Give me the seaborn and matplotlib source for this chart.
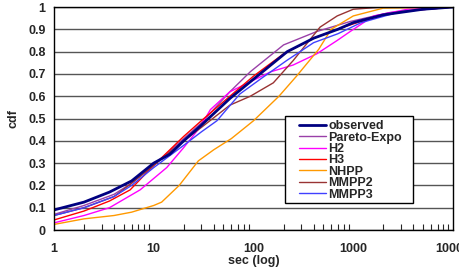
import numpy as np
import pandas as pd
import seaborn as sns
import matplotlib
matplotlib.use('Agg')
import matplotlib.pyplot as plt
from matplotlib.patches import Rectangle
from matplotlib.ticker import LogLocator, NullFormatter, FixedLocator

# values (x in seconds, y = cdf)
obs_x = [1, 2, 3.6, 6, 10, 14.5, 20, 30, 58, 116, 218, 400, 700, 1000, 2000, 5000, 10000]
obs_y = [0.09, 0.125, 0.17, 0.22, 0.30, 0.34, 0.40, 0.47, 0.59, 0.70, 0.80, 0.86, 0.90, 0.93, 0.965, 0.99, 1.0]

pareto_x = [1, 2, 4, 6, 10, 20, 30, 58, 93, 200, 430, 930, 2300, 10000]
pareto_y = [0.07, 0.11, 0.16, 0.21, 0.29, 0.41, 0.48, 0.62, 0.71, 0.83, 0.89, 0.935, 0.975, 1.0]

h2_x = [1, 2, 3.6, 7.3, 13.5, 20, 29, 37, 58, 93, 150, 250, 430, 690, 930, 1600, 3500, 10000]
h2_y = [0.032, 0.065, 0.10, 0.18, 0.28, 0.37, 0.46, 0.54, 0.62, 0.665, 0.71, 0.74, 0.79, 0.85, 0.89, 0.96, 0.99, 1.0]

h3_x = [1, 2, 3.6, 5.8, 10, 20, 30, 58, 100, 200, 400, 800, 1500, 3000, 10000]
h3_y = [0.045, 0.085, 0.13, 0.18, 0.29, 0.42, 0.49, 0.60, 0.69, 0.79, 0.86, 0.91, 0.95, 0.98, 1.0]

nhpp_x = [1, 2, 4, 6, 10, 12, 18, 28, 40, 60, 100, 180, 270, 450, 600, 1000, 2000, 10000]
nhpp_y = [0.025, 0.05, 0.065, 0.08, 0.11, 0.125, 0.20, 0.31, 0.36, 0.41, 0.49, 0.60, 0.69, 0.81, 0.90, 0.96, 0.995, 1.0]

mmpp2_x = [1, 2, 4, 6, 10, 20, 30, 58, 93, 158, 250, 465, 690, 1000, 2000, 10000]
mmpp2_y = [0.065, 0.10, 0.15, 0.21, 0.29, 0.40, 0.46, 0.56, 0.60, 0.66, 0.76, 0.91, 0.96, 0.99, 1.0, 1.0]

mmpp3_x = [1, 2, 4, 6, 10, 20, 30, 43, 73, 120, 215, 400, 700, 1200, 3000, 10000]
mmpp3_y = [0.065, 0.10, 0.15, 0.20, 0.28, 0.38, 0.44, 0.49, 0.61, 0.68, 0.76, 0.84, 0.88, 0.93, 0.98, 1.0]

labels = ['observed', 'Pareto-Expo', 'H2', 'H3', 'NHPP', 'MMPP2', 'MMPP3']
colors = ['#000080', '#9940a8', '#ff00ff', '#ff0000', '#ff9900', '#993333', '#4040ff']
series = [(obs_x, obs_y), (pareto_x, pareto_y), (h2_x, h2_y), (h3_x, h3_y),
          (nhpp_x, nhpp_y), (mmpp2_x, mmpp2_y), (mmpp3_x, mmpp3_y)]

sns.set_style('white')
plt.rcParams['font.family'] = ['Liberation Sans', 'DejaVu Sans']
plt.rcParams['font.weight'] = 'bold'
plt.rcParams['font.size'] = 9

fig = plt.figure(figsize=(4.59, 2.73), dpi=100)
ax = fig.add_axes([0.1176, 0.1575, 0.8694, 0.8168])

handles = {}
# draw observed last so it sits on top
for i in [1, 2, 3, 4, 5, 6, 0]:
    xs, ys = series[i]
    df = pd.DataFrame({'x': xs, 'y': ys})
    sns.lineplot(data=df, x='x', y='y', ax=ax, color=colors[i],
                 linewidth=2.0 if i == 0 else 1.0, label=labels[i])
    handles[labels[i]] = ax.get_lines()[-1]

ax.set_xscale('log')
ax.set_xlim(1, 10000)
ax.set_ylim(0, 1)
ax.set_yticks(np.arange(0, 1.01, 0.1))
ax.set_yticklabels(['0', '0.1', '0.2', '0.3', '0.4', '0.5', '0.6', '0.7', '0.8', '0.9', '1'])
ax.xaxis.set_major_locator(FixedLocator([1, 10, 100, 1000, 10000]))
ax.set_xticklabels(['1', '10', '100', '1000', '10000'])
ax.xaxis.set_minor_locator(LogLocator(base=10, subs=np.arange(2, 10)))
ax.xaxis.set_minor_formatter(NullFormatter())

ax.grid(axis='y', color='#555555', linewidth=1.0)
ax.set_axisbelow(True)
for s in ax.spines.values():
    s.set_color('black')
    s.set_linewidth(1.0)

ax.tick_params(axis='x', which='major', direction='out', length=5, width=1, pad=4, labelsize=9)
ax.tick_params(axis='x', which='minor', direction='in', length=4, width=0.8, bottom=True)
ax.tick_params(axis='y', which='major', direction='out', length=4, width=1, pad=2, labelsize=9)

ax.set_xlabel('sec (log)', fontsize=9, fontweight='bold', labelpad=0)
ax.set_ylabel('cdf', fontsize=9, fontweight='bold', labelpad=6)

# legend box drawn separately (wider side padding than the legend's own frame)
ax.add_patch(Rectangle((0.579, 0.121), 0.321, 0.390, transform=ax.transAxes,
                       facecolor='white', edgecolor='black', linewidth=1.0, zorder=4.5))
leg = ax.legend([handles[l] for l in labels], labels, loc='upper left',
                bbox_to_anchor=(0.615, 0.492), frameon=False, fontsize=9,
                labelspacing=-0.05, handlelength=2.1, handletextpad=0.2,
                borderpad=0, borderaxespad=0)
leg.set_zorder(5)

fig.savefig('out.png', dpi=100)
